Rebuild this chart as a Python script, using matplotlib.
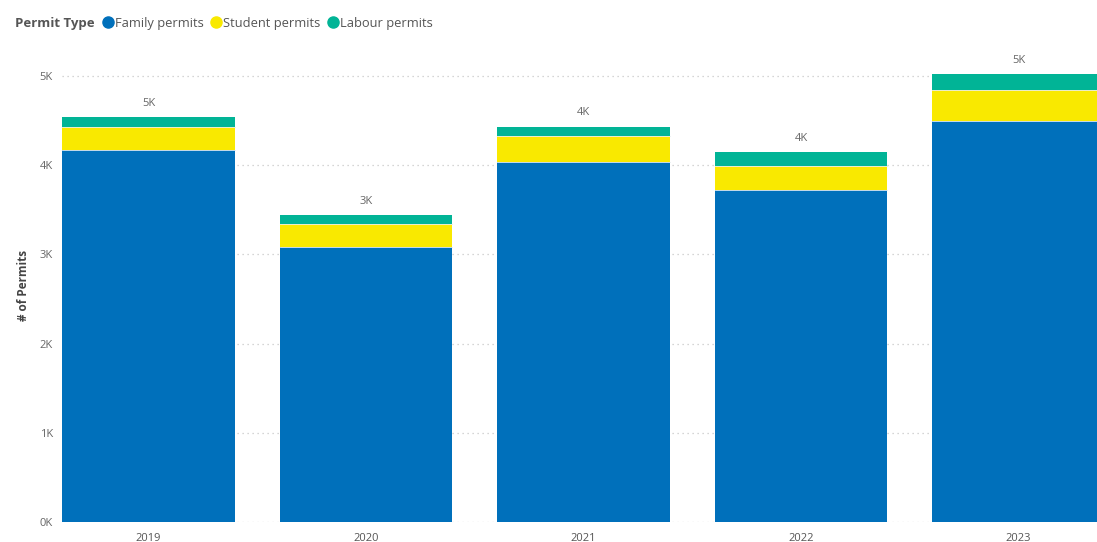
import numpy as np
import matplotlib.pyplot as plt
from matplotlib.lines import Line2D

plt.rcParams['font.family'] = ['Open Sans', 'DejaVu Sans']

# Permits per year, split by permit type
years = ['2019', '2020', '2021', '2022', '2023']
family = [4175, 3085, 4035, 3725, 4495]
student = [255, 255, 290, 270, 345]
labour = [105, 100, 105, 150, 180]

series_names = ['Family permits', 'Student permits', 'Labour permits']
colors = ['#0070bb', '#f9e900', '#01b496']

fig = plt.figure(figsize=(10.97, 5.42), dpi=100)
W, H = 1097, 542
# plot area in pixels (the last bar runs off the right edge)
left_px, right_px = 62, 1105
bottom_px = 522
k_px = 89.2
ymax = 5300
ax = fig.add_axes([left_px / W, (H - bottom_px) / H,
                   (right_px - left_px) / W, ymax / 1000 * k_px / H])

x = np.arange(len(years))
width = 0.795
fam = np.array(family)
stu = np.array(student)
lab = np.array(labour)

ax.bar(x, fam, width, color=colors[0], zorder=2)
ax.bar(x, stu, width, bottom=fam, color=colors[1], zorder=2)
ax.bar(x, lab, width, bottom=fam + stu, color=colors[2], zorder=2)

# thin light separators between the stacked segments
for xi, b1, b2 in zip(x, fam, fam + stu):
    for b in (b1, b2):
        ax.plot([xi - width / 2, xi + width / 2], [b, b], color='#e8eef0',
                lw=0.6, zorder=3)

totals = fam + stu + lab
for xi, t in zip(x, totals):
    ax.text(xi, t + 95, f'{round(t / 1000):.0f}K', ha='center', va='bottom',
            fontsize=8, color='#666666')

ax.set_xlim(-width / 2, len(years) - 1 + width / 2)
ax.set_ylim(0, ymax)
ax.set_yticks(range(0, 5001, 1000))
ax.set_yticklabels([f'{v // 1000}K' for v in range(0, 5001, 1000)])
ax.set_xticks(x)
ax.set_xticklabels(years)
ax.tick_params(axis='both', length=0, labelsize=8, colors='#666666')
ax.tick_params(axis='x', pad=8, labelcolor='#555555')
ax.tick_params(axis='y', pad=6.5)
ax.grid(axis='y', linestyle=(0, (1, 3)), color='#c8c8c8', lw=0.9, zorder=0)
for s in ax.spines.values():
    s.set_visible(False)

ax.set_ylabel('# of Permits', fontsize=8.5, color='#444444',
              fontweight='bold', labelpad=7)

# legend row
fig.text(15 / W, 1 - 23 / H, 'Permit Type', fontsize=9.5, fontweight='bold',
         color='#555555', va='center', ha='left')
handles = [Line2D([], [], marker='o', ls='', markersize=8, color=c)
           for c in colors]
fig.legend(handles, series_names, loc='center left',
           bbox_to_anchor=(101 / W, 1 - 23 / H), ncol=3, frameon=False,
           fontsize=9.3, labelcolor='#555555', handletextpad=0.0,
           columnspacing=0.4, handlelength=1.1, borderpad=0, borderaxespad=0)

fig.savefig('out.png', dpi=100)
